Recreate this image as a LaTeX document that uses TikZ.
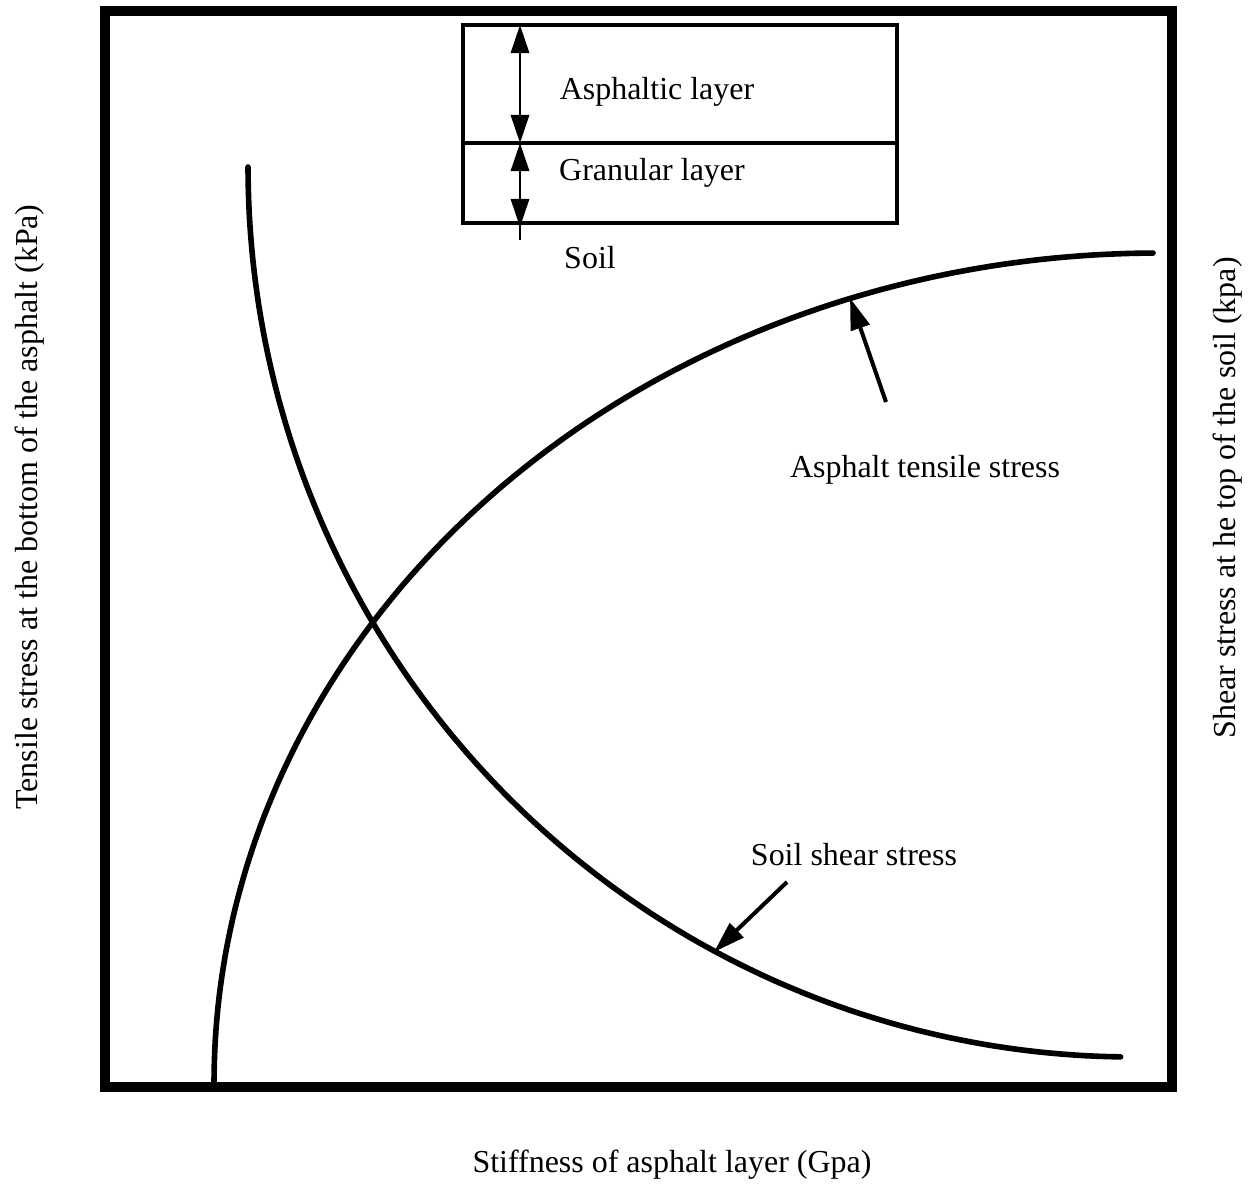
\documentclass[tikz,border=0pt]{standalone}
\usepackage{fontspec}
\setmainfont{Liberation Serif}
\usetikzlibrary{arrows.meta}
\begin{document}
\begin{tikzpicture}[x=0.02cm,y=-0.02cm,
  lbl/.style={font=\fontsize{18.2}{21}\selectfont, inner sep=0pt},
  curve/.style={line width=3.2pt, line cap=round},
  ptr/.style={line width=2.3pt, -{Triangle[length=18pt,width=11pt]}},
  dimarrow/.style={line width=1.1pt, {Triangle[length=16pt,width=10.5pt]}-{Triangle[length=16pt,width=10.5pt]}},
  boxline/.style={line width=1.9pt},
]
\useasboundingbox (0,0) rectangle (1255,1188);
% frame
\draw[line width=5.8pt] (105,11) rectangle (1172,1087);
% inset
\coordinate (bTL) at (463,25);
\coordinate (bBR) at (897,223);
\coordinate (divL) at (463,143);
\coordinate (divR) at (897,143);
\draw[boxline] (bTL) rectangle (bBR);
\draw[boxline] (divL) -- (divR);
\coordinate (a1) at (520,25);
\coordinate (a2) at (520,143);
\coordinate (a3) at (520,227);
\coordinate (a4) at (520,240);
\draw[dimarrow] (a1) -- (a2);
\draw[line width=1.1pt] (a2) -- (a4);
\draw[dimarrow] (a2) -- (a3);
\node[lbl] (asph) at (657,92) {Asphaltic layer};
\node[lbl] (gran) at (652,173) {Granular layer};
\node[lbl] (soil) at (590,258) {Soil};
% curves
\draw[curve] plot[domain=180:90.3, samples=120, variable=\t] ({1158+944*cos(\t)},{1083-830*sin(\t)});
\draw[curve] plot[domain=180:269.2, samples=120, variable=\t] ({1133+885*cos(\t)},{167-890*sin(\t)});
% pointers
\coordinate (tipA) at (850,298);
\coordinate (tailA) at (886,402);
\coordinate (tipS) at (714,952);
\coordinate (tailS) at (787,882);
\draw[ptr] (tailA) -- (tipA);
\draw[ptr] (tailS) -- (tipS);
\node[lbl] (lblA) at (925,470) {Asphalt tensile stress};
\node[lbl] (lblS) at (854,855) {Soil shear stress};
% axis labels
\node[lbl] (xlab) at (672,1165) {Stiffness of asphalt layer (Gpa)};
\node[lbl, rotate=90] (ylab) at (30,507) {Tensile stress at the bottom of the asphalt (kPa)};
\node[lbl, rotate=90] (y2lab) at (1228,498) {Shear stress at he top of the soil (kpa)};
\end{tikzpicture}
\end{document}
